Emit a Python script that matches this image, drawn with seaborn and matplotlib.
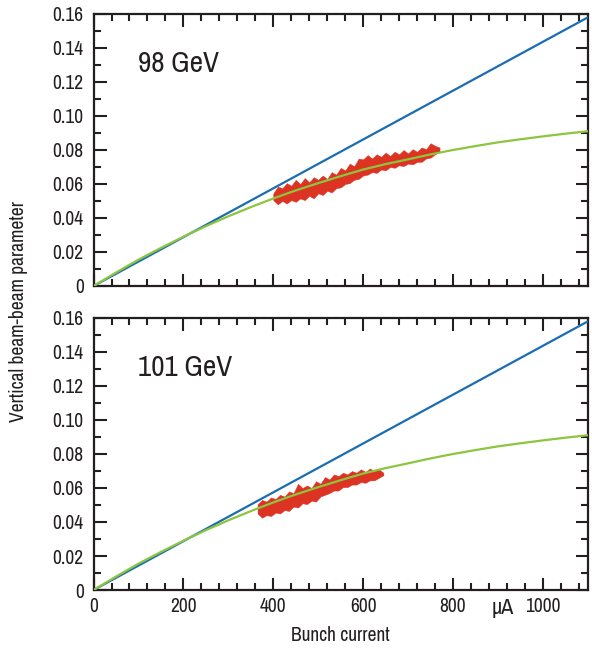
import numpy as np
import pandas as pd
import matplotlib
matplotlib.use("Agg")
import matplotlib.pyplot as plt
import seaborn as sns
from matplotlib import font_manager
from matplotlib.ticker import MultipleLocator, FuncFormatter
import matplotlib.transforms as mtransforms

sns.set_style("ticks")

# look for a narrow face (the original uses a condensed font)
narrow = None
for f in font_manager.fontManager.ttflist:
    if 'Narrow' in f.name or 'Condensed' in f.name:
        narrow = f.name
        break
    if f.name == 'DejaVu Sans' and 'condensed' in str(f.stretch):
        narrow = 'DejaVu Sans'
if narrow:
    plt.rcParams['font.family'] = [narrow, 'DejaVu Sans']
else:
    plt.rcParams['font.family'] = ['DejaVu Sans']
plt.rcParams['font.stretch'] = 'condensed'

# data
current = [0, 50, 100, 150, 200, 250, 300, 350, 400, 450, 500, 550, 600,
           650, 700, 750, 800, 850, 900, 950, 1000, 1050, 1100]
fit_curve = [0, 0.0079, 0.0155, 0.0224, 0.0290, 0.0352, 0.0410, 0.0464, 0.0515, 0.0562,
             0.0605, 0.0646, 0.0685, 0.0717, 0.0745, 0.0774, 0.0800, 0.0823, 0.0845,
             0.0863, 0.0880, 0.0896, 0.0910]
linear_x = [0, 1100]
linear_y = [0, 0.158]

x98 = [400, 410, 420, 430, 440, 450, 460, 470, 480, 490, 500, 510, 520, 530, 540, 550, 560,
       570, 580, 590, 600, 610, 620, 630, 640, 650, 660, 670, 680, 690, 700, 710, 720,
       730, 740, 750, 760, 770]
hi98 = [0.0545, 0.0585, 0.0575, 0.0605, 0.0590, 0.0625, 0.0600, 0.0635, 0.0610, 0.0640,
        0.0625, 0.0650, 0.0630, 0.0670, 0.0655, 0.0695, 0.0680, 0.0720, 0.0705, 0.0750,
        0.0745, 0.0770, 0.0750, 0.0775, 0.0760, 0.0785, 0.0765, 0.0790, 0.0775, 0.0800,
        0.0780, 0.0805, 0.0790, 0.0815, 0.0805, 0.0840, 0.0825, 0.0815]
lo98 = [0.0505, 0.0480, 0.0500, 0.0485, 0.0505, 0.0495, 0.0515, 0.0505, 0.0530, 0.0515,
        0.0545, 0.0535, 0.0560, 0.0550, 0.0575, 0.0580, 0.0600, 0.0605, 0.0625, 0.0630,
        0.0650, 0.0655, 0.0670, 0.0665, 0.0685, 0.0680, 0.0700, 0.0695, 0.0710, 0.0705,
        0.0720, 0.0715, 0.0730, 0.0730, 0.0750, 0.0755, 0.0775, 0.0790]

x101 = [365, 375, 385, 395, 405, 415, 425, 435, 445, 455, 465, 475, 485, 495, 505, 515,
        525, 535, 545, 555, 565, 575, 585, 595, 605, 615, 625, 635, 645]
hi101 = [0.0505, 0.0530, 0.0520, 0.0545, 0.0535, 0.0560, 0.0550, 0.0580, 0.0570, 0.0625,
         0.0600, 0.0615, 0.0600, 0.0640, 0.0625, 0.0665, 0.0650, 0.0680, 0.0670, 0.0690,
         0.0680, 0.0700, 0.0690, 0.0710, 0.0695, 0.0715, 0.0700, 0.0710, 0.0690]
lo101 = [0.0450, 0.0425, 0.0440, 0.0435, 0.0455, 0.0450, 0.0470, 0.0465, 0.0490, 0.0485,
         0.0510, 0.0505, 0.0525, 0.0520, 0.0550, 0.0560, 0.0570, 0.0585, 0.0585, 0.0605,
         0.0605, 0.0620, 0.0620, 0.0635, 0.0630, 0.0645, 0.0645, 0.0660, 0.0675]

panels = [("98 GeV", x98, lo98, hi98), ("101 GeV", x101, lo101, hi101)]

blue = "#1b6db3"
green = "#8cc63f"
red = "#dc3322"
ink = '#231f20'

fig = plt.figure(figsize=(5.92, 6.5), dpi=100)
ax_top = fig.add_axes([0.158, 0.56, 0.835, 0.4185])
ax_bot = fig.add_axes([0.158, 0.0923, 0.835, 0.4185])

fit = pd.DataFrame({'current': current, 'xi': fit_curve})
lin = pd.DataFrame({'current': linear_x, 'xi': linear_y})

for ax, (label, bx, blo, bhi) in zip([ax_top, ax_bot], panels):
    ax.fill_between(bx, blo, bhi, color=red, lw=0.3, edgecolor=red, zorder=2)
    sns.lineplot(data=lin, x='current', y='xi', ax=ax, color=blue, lw=1.6, zorder=3)
    sns.lineplot(data=fit, x='current', y='xi', ax=ax, color=green, lw=1.6, zorder=4)
    ax.set_xlim(0, 1100)
    ax.set_ylim(0, 0.16)
    ax.xaxis.set_major_locator(MultipleLocator(200))
    ax.xaxis.set_minor_locator(MultipleLocator(40))
    ax.yaxis.set_major_locator(MultipleLocator(0.02))
    ax.yaxis.set_minor_locator(MultipleLocator(0.01))
    ax.yaxis.set_major_formatter(FuncFormatter(lambda v, p: "0" if abs(v) < 1e-9 else f"{v:.2f}"))
    ax.tick_params(which='both', direction='in', top=True, right=True, width=1.5,
                   labelsize=14, colors=ink)
    ax.tick_params(axis='y', pad=7)
    ax.tick_params(axis='x', pad=5)
    ax.tick_params(which='major', length=9)
    ax.tick_params(which='minor', length=5)
    for s in ax.spines.values():
        s.set_linewidth(1.6)
        s.set_color(ink)
    ax.set_xlabel('')
    ax.set_ylabel('')
    ax.text(100, 0.131, label, fontsize=21, ha='left', va='center', color=ink)

ax_top.tick_params(labelbottom=False)
ax_bot.set_xlabel('Bunch current', fontsize=14, color=ink, labelpad=7)
trans = mtransforms.blended_transform_factory(ax_bot.transData, ax_bot.transAxes)
ax_bot.text(910, -0.028, 'μA', transform=trans, fontsize=16, ha='center', va='top',
            color=ink)
fig.text(0.031, 0.52, 'Vertical beam-beam parameter', rotation=90, fontsize=14,
         ha='center', va='center', color=ink)

fig.savefig('out.png', dpi=100)
